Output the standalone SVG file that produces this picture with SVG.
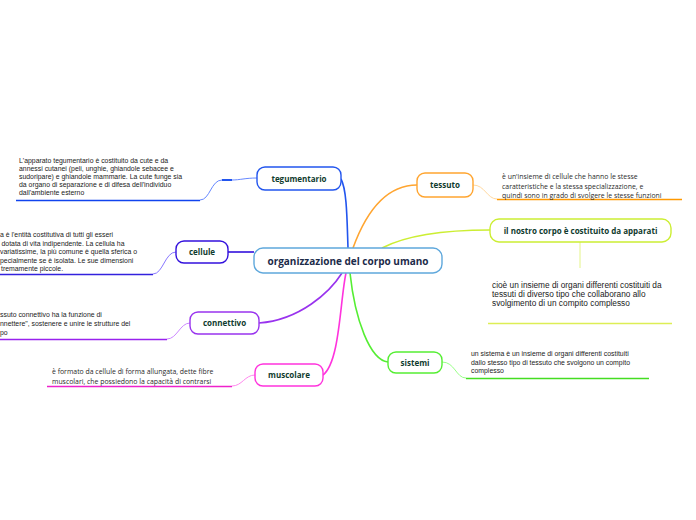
<svg xmlns="http://www.w3.org/2000/svg" width="696" height="520" viewBox="0 0 696 520">
<style>
.box{fill:#fff;stroke-width:1.4}
.lbl{font-family:"Open Sans","Noto Sans",sans-serif;font-weight:bold;font-size:8px;fill:#0f3b2e;text-anchor:middle}
.ctr{font-family:"Open Sans","Noto Sans",sans-serif;font-weight:bold;font-size:10px;fill:#1c2b4a;text-anchor:middle}
.d{font-family:"Liberation Sans",Arial,sans-serif;font-size:6.9px;fill:#1a1a1a}
.d2{font-family:"Open Sans","Noto Sans",sans-serif;font-size:6.9px;fill:#2a2a2a}
.d3{font-family:"Liberation Sans",Arial,sans-serif;font-size:8.3px;fill:#1a1a1a}
.c{fill:none;stroke-width:1.6}
.s{fill:none;stroke-width:1}
.u{fill:none;stroke-width:1.6}
</style>
<rect width="696" height="520" fill="#fff"/>
<g id="connectors">
<path class="c" stroke="#2255ee" d="M341,179 C347,190 347,220 348,248"/>
<path class="c" stroke="#ffa530" d="M417,185 C385,185 365,215 353,248"/>
<path class="c" stroke="#ccee33" d="M490,230 C440,230 405,236 382,248"/>
<path class="c" stroke="#3311dd" d="M228,252 L254,252"/>
<path class="c" stroke="#9933ee" d="M259,323 C300,320 330,292 342,273"/>
<path class="c" stroke="#ff33dd" d="M323,375 C340,362 340,300 346,273"/>
<path class="c" stroke="#55ee33" d="M388,362 C370,360 355,320 350,273"/>
<path class="s" stroke="#6688ff" d="M257,178 C245,178 240,180 232,180"/>
<path stroke="#2255ee" stroke-width="2" d="M222,180 L232,180"/>
<path class="s" stroke="#6688ff" d="M222,180 C211,180 210,200 200,200"/>
<path class="u" stroke="#1144ee" d="M200,200.5 L16,200.5"/>
<path class="s" stroke="#8877ff" d="M176,252 C165,252 163,274 153,274"/>
<path class="u" stroke="#3322dd" d="M153,274.5 L0,274.5"/>
<path class="s" stroke="#cc88ff" d="M190,323 C180,323 177,339 167,339"/>
<path class="u" stroke="#9922ee" d="M167,339.5 L0,339.5"/>
<path class="s" stroke="#ff88ee" d="M255,375 C245,375 242,386 232,386"/>
<path class="u" stroke="#ee22cc" d="M232,386.5 L47,386.5"/>
<path class="s" stroke="#ffd9a0" d="M473,185 C485,185 487,199 497,199"/>
<path class="u" stroke="#ff9900" d="M497,199.5 L682,199.5"/>
<path class="s" stroke="#99ff88" d="M442,362 C455,362 456,378 466,378"/>
<path class="u" stroke="#44dd22" d="M466,378.5 L649,378.5"/>
<path class="s" stroke="#e4f488" d="M580,242 L580,268"/>
<path class="u" stroke="#ddee55" d="M488,323.5 L672,323.5"/>
</g>
<g id="center">
<rect class="box" x="254" y="248" width="188" height="25" rx="9" stroke="#5fa8dc"/>
<text class="ctr" x="348" y="264.5">organizzazione del corpo umano</text>
</g>
<g id="tegumentario">
<rect class="box" x="257" y="167" width="84" height="23" rx="8" stroke="#2255ee"/>
<text class="lbl" x="299" y="181.5">tegumentario</text>
<text class="d"><tspan x="19" y="163">L'apparato tegumentario è costituito da cute e da</tspan><tspan x="19" y="171">annessi cutanei (peli, unghie, ghiandole sebacee e</tspan><tspan x="19" y="179">sudoripare) e ghiandole mammarie. La cute funge sia</tspan><tspan x="19" y="187">da organo di separazione e di difesa dell'individuo</tspan><tspan x="19" y="195">dall'ambiente esterno</tspan></text>
</g>
<g id="cellule">
<rect class="box" x="176" y="241" width="52" height="22" rx="8" stroke="#3311dd"/>
<text class="lbl" x="202" y="255">cellule</text>
<text class="d"><tspan x="0" y="237">a è l'entità costitutiva di tutti gli esseri</tspan><tspan x="1.5" y="245.5">dotata di vita indipendente. La cellula ha</tspan><tspan x="0" y="254">variatissime, la più comune è quella sferica o</tspan><tspan x="0" y="262.5">pecialmente se è isolata. Le sue dimensioni</tspan><tspan x="1" y="271">tremamente piccole.</tspan></text>
</g>
<g id="connettivo">
<rect class="box" x="190" y="312" width="69" height="22" rx="8" stroke="#9933ee"/>
<text class="lbl" x="224.5" y="326">connettivo</text>
<text class="d"><tspan x="0" y="316.5">ssuto connettivo ha la funzione di</tspan><tspan x="0" y="325.5">nnettere", sostenere e unire le strutture del</tspan><tspan x="0" y="334.5">po</tspan></text>
</g>
<g id="muscolare">
<rect class="box" x="255" y="364" width="68" height="22" rx="8" stroke="#ff33dd"/>
<text class="lbl" x="289" y="378">muscolare</text>
<text class="d2"><tspan x="52" y="373.5">è formato da cellule di forma allungata, dette fibre</tspan><tspan x="52" y="383.5">muscolari, che possiedono la capacità di contrarsi</tspan></text>
</g>
<g id="tessuto">
<rect class="box" x="417" y="173" width="56" height="24" rx="8" stroke="#ffa530"/>
<text class="lbl" x="445" y="188">tessuto</text>
<text class="d2"><tspan x="502" y="179">è un'insieme di cellule che hanno le stesse</tspan><tspan x="502" y="189">caratteristiche  e la stessa specializzazione, e</tspan><tspan x="502" y="198">quindi sono in grado di svolgere le stesse funzioni</tspan></text>
</g>
<g id="apparati">
<rect class="box" x="490" y="219" width="181" height="23" rx="9" stroke="#ccee33"/>
<text class="lbl" x="580.5" y="233.5">il nostro corpo è costituito da apparati</text>
<text class="d3"><tspan x="492" y="288">cioè un insieme di organi differenti costituiti da</tspan><tspan x="492" y="297">tessuti di diverso tipo che collaborano allo</tspan><tspan x="492" y="306">svolgimento di un compito complesso</tspan></text>
</g>
<g id="sistemi">
<rect class="box" x="388" y="352" width="54" height="21" rx="8" stroke="#55ee33"/>
<text class="lbl" x="415" y="365.5">sistemi</text>
<text class="d"><tspan x="471" y="356">un sistema è un insieme di organi differenti costituiti</tspan><tspan x="471" y="364.5">dallo stesso tipo di tessuto che svolgono un compito</tspan><tspan x="471" y="373">complesso</tspan></text>
</g>
</svg>
